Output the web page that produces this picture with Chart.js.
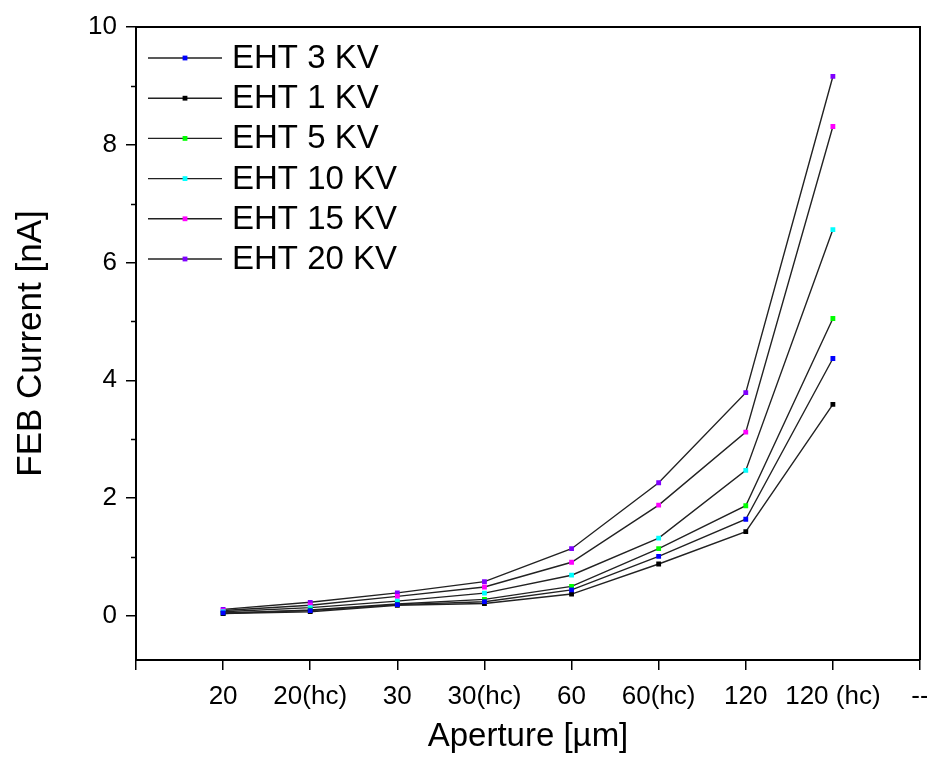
<!DOCTYPE html>
<html>
<head>
<meta charset="utf-8">
<script src="https://cdn.jsdelivr.net/npm/chart.js@4"></script>
<style>
  html, body { margin: 0; padding: 0; background: #fff; }
  #wrap { width: 927px; height: 758px; }
</style>
</head>
<body>
<div id="wrap"><canvas id="c" width="927" height="758"></canvas></div>
<script>
const categories = ['', '20', '20(hc)', '30', '30(hc)', '60', '60(hc)', '120', '120 (hc)', '--'];
const eht3  = [0.05, 0.09, 0.19, 0.24, 0.44, 1.01, 1.64, 4.37];
const eht1  = [0.04, 0.07, 0.18, 0.21, 0.37, 0.88, 1.43, 3.59];
const eht5  = [0.04, 0.10, 0.20, 0.28, 0.50, 1.14, 1.87, 5.05];
const eht10 = [0.07, 0.14, 0.25, 0.385, 0.69, 1.32, 2.47, 6.56];
const eht15 = [0.09, 0.18, 0.33, 0.49, 0.91, 1.88, 3.12, 8.31];
const eht20 = [0.11, 0.23, 0.39, 0.58, 1.14, 2.26, 3.79, 9.16];
const seriesNames = ['EHT 3 KV', 'EHT 1 KV', 'EHT 5 KV', 'EHT 10 KV', 'EHT 15 KV', 'EHT 20 KV'];
const seriesColors = ['#0000ff', '#000000', '#00ff00', '#00ffff', '#ff00ff', '#8000ff'];
const yMajorTicks = [0, 2, 4, 6, 8, 10];
const yMinorTicks = [1, 3, 5, 7, 9];

const FONT = "'Liberation Sans', Arial, sans-serif";
const allSeries = [eht3, eht1, eht5, eht10, eht15, eht20];

const datasets = allSeries.map((vals, i) => ({
  label: seriesNames[i],
  data: [null, ...vals, null],
  borderColor: '#222222',
  borderWidth: 1.4,
  pointStyle: 'rect',
  pointRadius: 3.4,
  pointHoverRadius: 3.4,
  pointBackgroundColor: seriesColors[i],
  pointBorderColor: seriesColors[i],
  pointBorderWidth: 0,
  tension: 0,
  fill: false,
  spanGaps: false
}));

const framePlugin = {
  id: 'frame',
  afterDraw(chart) {
    const ctx = chart.ctx;
    const a = chart.chartArea;
    const y = chart.scales.y;
    ctx.save();
    ctx.strokeStyle = '#000';
    ctx.lineWidth = 2;
    ctx.beginPath();
    ctx.moveTo(a.left, a.top);
    ctx.lineTo(a.right, a.top);
    ctx.lineTo(a.right, a.bottom);
    ctx.stroke();
    ctx.lineWidth = 1.5;
    yMinorTicks.forEach(v => {
      const py = Math.round(y.getPixelForValue(v)) + 0.5;
      ctx.beginPath();
      ctx.moveTo(a.left, py);
      ctx.lineTo(a.left - 5, py);
      ctx.stroke();
    });
    const x0 = a.left + 12;
    chart.data.datasets.forEach((ds, i) => {
      const cy = a.top + 31 + i * 40.2;
      ctx.strokeStyle = '#222222';
      ctx.lineWidth = 1.4;
      ctx.beginPath();
      ctx.moveTo(x0, cy);
      ctx.lineTo(x0 + 74, cy);
      ctx.stroke();
      ctx.fillStyle = ds.pointBackgroundColor;
      ctx.fillRect(x0 + 37 - 2.4, cy - 2.4, 4.8, 4.8);
      ctx.fillStyle = '#000';
      ctx.font = '33px ' + FONT;
      ctx.textBaseline = 'middle';
      ctx.textAlign = 'left';
      ctx.fillText(ds.label, x0 + 84, cy + 1);
    });
    ctx.restore();
  }
};

new Chart(document.getElementById('c'), {
  type: 'line',
  data: { labels: categories, datasets },
  plugins: [framePlugin],
  options: {
    responsive: false,
    animation: false,
    events: [],
    layout: { padding: { top: 27, right: 7, bottom: 0, left: 0 } },
    plugins: { legend: { display: false }, tooltip: { enabled: false } },
    scales: {
      x: {
        type: 'category',
        offset: false,
        grid: { drawOnChartArea: false, drawTicks: true, tickLength: 10, color: '#000', lineWidth: 1.5 },
        border: { display: true, color: '#000', width: 2 },
        ticks: {
          autoSkip: false, maxRotation: 0, minRotation: 0, padding: 11,
          color: '#000', font: { family: FONT, size: 26 }
        },
        title: {
          display: true, text: 'Aperture [µm]', color: '#000',
          font: { family: FONT, size: 33, lineHeight: 1.2 }, padding: { top: 0, bottom: 1 }
        },
        afterFit(s) { s.height = 98; s.paddingLeft = 0; s.paddingRight = 0; }
      },
      y: {
        type: 'linear',
        min: -0.75, max: 10,
        grid: { drawOnChartArea: false, drawTicks: true, tickLength: 10, color: '#000', lineWidth: 1.5 },
        border: { display: true, color: '#000', width: 2 },
        ticks: {
          padding: 9, color: '#000', font: { family: FONT, size: 26 },
          callback: (v) => String(v)
        },
        afterBuildTicks(s) { s.ticks = yMajorTicks.map(v => ({ value: v })); },
        title: {
          display: true, text: 'FEB Current [nA]', color: '#000',
          font: { family: FONT, size: 35, lineHeight: 1.2 }, padding: { top: 10, bottom: 0 }
        },
        afterFit(s) { s.width = 136; s.paddingTop = 0; s.paddingBottom = 0; }
      }
    }
  }
});
</script>
</body>
</html>
